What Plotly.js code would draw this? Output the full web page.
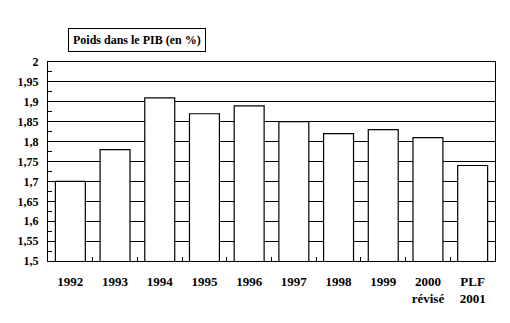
<!DOCTYPE html>
<html><head><meta charset="utf-8">
<script src="https://cdn.plot.ly/plotly-3.0.1.min.js"></script>
<style>body{margin:0;background:#fff}#c{width:510px;height:323px}</style>
</head><body><div id="c"></div>
<script>
var categories = ["1992","1993","1994","1995","1996","1997","1998","1999","2000<br>révisé","PLF<br>2001"];
var values = [1.70,1.78,1.91,1.87,1.89,1.85,1.82,1.83,1.81,1.74];
var yTickVals = [1.5,1.55,1.6,1.65,1.7,1.75,1.8,1.85,1.9,1.95,2];
var yTickText = ["1,5","1,55","1,6","1,65","1,7","1,75","1,8","1,85","1,9","1,95","2"];
var titleText = "Poids dans le PIB (en %)";

var fam = "'Liberation Serif', 'Times New Roman', Times, serif";
var font = {family:fam, size:12, color:"#000", weight:"bold"};
var xfont = {family:fam, size:13, color:"#000", weight:"bold"};
Plotly.newPlot("c", [{
  type:"bar", x:categories, y:values,
  marker:{color:"#fff", line:{color:"#000", width:1.2}},
  width:0.67, hoverinfo:"none"
}], {
  width:510, height:323,
  margin:{l:48, r:15, t:62, b:62},
  paper_bgcolor:"#fff", plot_bgcolor:"#fff",
  showlegend:false,
  font:font,
  xaxis:{type:"category", showline:true, mirror:true, linecolor:"#000", linewidth:1.2,
    ticks:"inside", tickson:"boundaries", ticklen:4, tickcolor:"#000",
    showgrid:false, tickfont:xfont, ticklabelstandoff:8},
  yaxis:{range:[1.5,2], tickvals:yTickVals, ticktext:yTickText, showline:true, mirror:true,
    linecolor:"#000", linewidth:1.2, showgrid:true, gridcolor:"#000", gridwidth:1,
    ticks:"inside", ticklen:4, tickcolor:"#000", zeroline:false, tickfont:font,
    minor:{dtick:0.05, tick0:1.525, ticks:"inside", ticklen:4, tickcolor:"#000", showgrid:false},
    ticklabelstandoff:6},
  annotations:[{xref:"paper", yref:"paper", x:0.044, y:1.05, xanchor:"left", yanchor:"bottom",
    text:titleText, showarrow:false, font:{family:fam, size:12, color:"#000", weight:"bold"},
    bordercolor:"#000", borderwidth:1, borderpad:4, bgcolor:"#fff"}]
}, {staticPlot:true});
</script></body></html>
